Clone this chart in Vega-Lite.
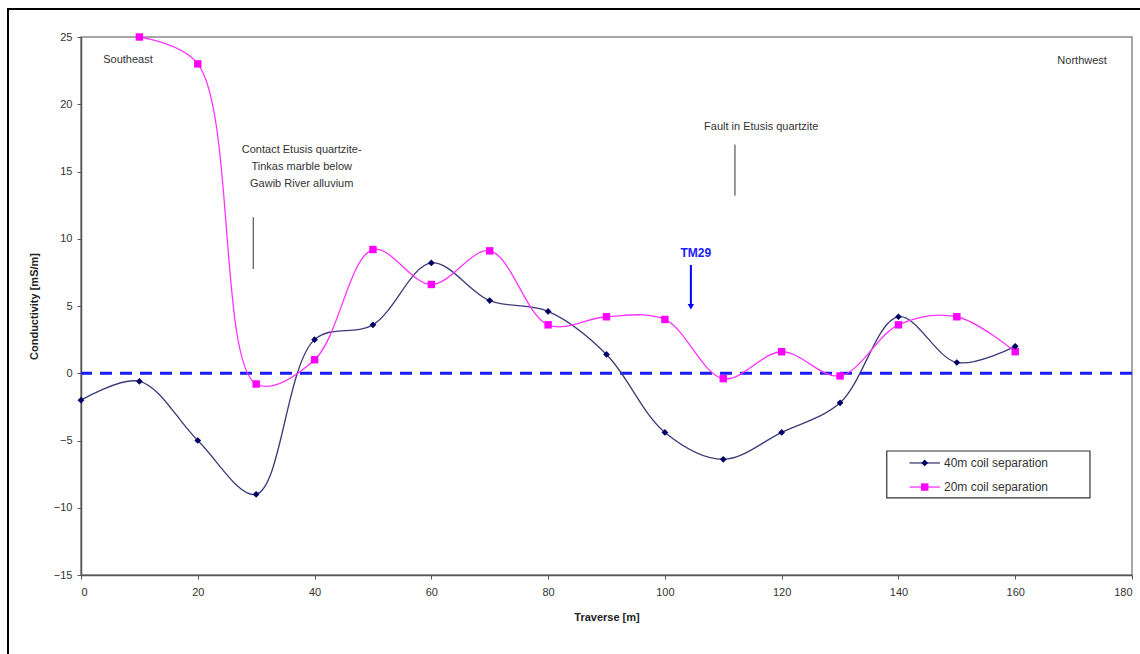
{
  "$schema": "https://vega.github.io/schema/vega-lite/v6.json",
  "width": 1051,
  "height": 538,
  "autosize": "none",
  "padding": {"left": 81, "top": 37, "right": 8, "bottom": 79},
  "background": "white",
  "config": {
    "view": {"stroke": "#8a8a8a", "strokeWidth": 1.5},
    "font": "Liberation Sans",
    "axis": {"grid": false, "domainColor": "#555555", "domainWidth": 1.5, "tickColor": "#555555", "tickSize": 4, "labelFont": "Liberation Sans", "labelFontSize": 11, "labelColor": "#333333", "titleFont": "Liberation Sans", "titleFontSize": 11, "titleFontWeight": "bold", "titleColor": "#222222"}
  },
  "datasets": {
    "em": [
      {"x": 0, "y": -2.0, "series": "40m coil separation"},
      {"x": 10, "y": -0.6, "series": "40m coil separation"},
      {"x": 20, "y": -5.0, "series": "40m coil separation"},
      {"x": 30, "y": -9.0, "series": "40m coil separation"},
      {"x": 40, "y": 2.5, "series": "40m coil separation"},
      {"x": 50, "y": 3.6, "series": "40m coil separation"},
      {"x": 60, "y": 8.2, "series": "40m coil separation"},
      {"x": 70, "y": 5.4, "series": "40m coil separation"},
      {"x": 80, "y": 4.6, "series": "40m coil separation"},
      {"x": 90, "y": 1.4, "series": "40m coil separation"},
      {"x": 100, "y": -4.4, "series": "40m coil separation"},
      {"x": 110, "y": -6.4, "series": "40m coil separation"},
      {"x": 120, "y": -4.4, "series": "40m coil separation"},
      {"x": 130, "y": -2.2, "series": "40m coil separation"},
      {"x": 140, "y": 4.2, "series": "40m coil separation"},
      {"x": 150, "y": 0.8, "series": "40m coil separation"},
      {"x": 160, "y": 2.0, "series": "40m coil separation"},
      {"x": 10, "y": 25.0, "series": "20m coil separation"},
      {"x": 20, "y": 23.0, "series": "20m coil separation"},
      {"x": 30, "y": -0.8, "series": "20m coil separation"},
      {"x": 40, "y": 1.0, "series": "20m coil separation"},
      {"x": 50, "y": 9.2, "series": "20m coil separation"},
      {"x": 60, "y": 6.6, "series": "20m coil separation"},
      {"x": 70, "y": 9.1, "series": "20m coil separation"},
      {"x": 80, "y": 3.6, "series": "20m coil separation"},
      {"x": 90, "y": 4.2, "series": "20m coil separation"},
      {"x": 100, "y": 4.0, "series": "20m coil separation"},
      {"x": 110, "y": -0.4, "series": "20m coil separation"},
      {"x": 120, "y": 1.6, "series": "20m coil separation"},
      {"x": 130, "y": -0.2, "series": "20m coil separation"},
      {"x": 140, "y": 3.6, "series": "20m coil separation"},
      {"x": 150, "y": 4.2, "series": "20m coil separation"},
      {"x": 160, "y": 1.6, "series": "20m coil separation"}
    ],
    "notes": [
      {"x": 3.8, "y": 23.3, "label": "Southeast", "align": "left"},
      {"x": 175.7, "y": 23.2, "label": "Northwest", "align": "right"},
      {"x": 37.8, "y": 16.6, "label": "Contact Etusis quartzite-", "align": "center"},
      {"x": 37.8, "y": 15.33, "label": "Tinkas marble below", "align": "center"},
      {"x": 37.8, "y": 14.07, "label": "Gawib River alluvium", "align": "center"},
      {"x": 116.5, "y": 18.3, "label": "Fault in Etusis quartzite", "align": "center"}
    ],
    "ticks": [
      {"x": 29.5, "y": 11.6, "y2": 7.75},
      {"x": 112.0, "y": 17.0, "y2": 13.2}
    ],
    "legendItems": [
      {"x": 141.9, "x2": 147.1, "xm": 144.5, "xt": 147.8, "y": -6.67, "series": "40m coil separation"},
      {"x": 141.9, "x2": 147.1, "xm": 144.5, "xt": 147.8, "y": -8.46, "series": "20m coil separation"}
    ]
  },
  "encoding": {
    "x": {"field": "x", "type": "quantitative", "scale": {"domain": [0, 180], "nice": false, "zero": false}, "axis": {"values": [0, 20, 40, 60, 80, 100, 120, 140, 160, 180], "title": "Traverse [m]", "labelPadding": 7, "titlePadding": 14}},
    "y": {"field": "y", "type": "quantitative", "scale": {"domain": [-15, 25], "nice": false, "zero": false}, "axis": {"values": [-15, -10, -5, 0, 5, 10, 15, 20, 25], "title": "Conductivity [mS/m]", "labelPadding": 5, "titlePadding": 14}}
  },
  "layer": [
    {
      "data": {"values": [{"x": -12.5, "x2": 200, "y": 27.08, "y2": -25}]},
      "mark": {"type": "rect", "fill": null, "fillOpacity": 0, "stroke": "#000000", "strokeWidth": 2, "clip": false},
      "encoding": {"x2": {"field": "x2"}, "y2": {"field": "y2"}}
    },
    {
      "data": {"values": [{"y": 0}]},
      "mark": {"type": "rule", "color": "#1a1aff", "strokeWidth": 3, "strokeDash": [12, 8]},
      "encoding": {"x": null}
    },
    {
      "data": {"name": "em"},
      "mark": {"type": "line", "interpolate": "catmull-rom", "strokeWidth": 1.3},
      "encoding": {
        "color": {"field": "series", "type": "nominal", "scale": {"domain": ["20m coil separation", "40m coil separation"], "range": ["#ff33ff", "#3a3a78"]}, "legend": null},
        "order": {"field": "x", "type": "quantitative"}
      }
    },
    {
      "data": {"name": "em"},
      "transform": [{"filter": "datum.series === '20m coil separation'"}],
      "mark": {"type": "point", "shape": "square", "filled": true, "size": 55, "color": "#ff00ff", "opacity": 1}
    },
    {
      "data": {"name": "em"},
      "transform": [{"filter": "datum.series === '40m coil separation'"}],
      "mark": {"type": "point", "shape": "diamond", "filled": true, "size": 45, "color": "#000066", "opacity": 1}
    },
    {
      "data": {"name": "notes"},
      "transform": [{"filter": "datum.align === 'left'"}],
      "mark": {"type": "text", "align": "left", "fontSize": 11, "color": "#333333", "font": "Liberation Sans"},
      "encoding": {"text": {"field": "label"}}
    },
    {
      "data": {"name": "notes"},
      "transform": [{"filter": "datum.align === 'right'"}],
      "mark": {"type": "text", "align": "right", "fontSize": 11, "color": "#333333", "font": "Liberation Sans"},
      "encoding": {"text": {"field": "label"}}
    },
    {
      "data": {"name": "notes"},
      "transform": [{"filter": "datum.align === 'center'"}],
      "mark": {"type": "text", "align": "center", "fontSize": 11, "color": "#333333", "font": "Liberation Sans"},
      "encoding": {"text": {"field": "label"}}
    },
    {
      "data": {"name": "ticks"},
      "mark": {"type": "rule", "color": "#333333", "strokeWidth": 1},
      "encoding": {"y2": {"field": "y2"}}
    },
    {
      "data": {"values": [{"x": 105.3, "y": 8.96, "label": "TM29"}]},
      "mark": {"type": "text", "fontSize": 12, "fontWeight": "bold", "color": "#2020ff", "font": "Liberation Sans"},
      "encoding": {"text": {"field": "label"}}
    },
    {
      "data": {"values": [{"x": 104.45, "y": 8.05, "y2": 5.1}]},
      "mark": {"type": "rule", "color": "#0000ff", "strokeWidth": 2},
      "encoding": {"y2": {"field": "y2"}}
    },
    {
      "data": {"values": [{"x": 104.45, "y": 4.95}]},
      "mark": {"type": "point", "shape": "triangle-down", "filled": true, "size": 40, "color": "#0000ff", "opacity": 1}
    },
    {
      "data": {"values": [{"x": 138.0, "x2": 172.8, "y": -5.78, "y2": -9.27}]},
      "mark": {"type": "rect", "fill": "white", "stroke": "#333333", "strokeWidth": 1.2},
      "encoding": {"x2": {"field": "x2"}, "y2": {"field": "y2"}}
    },
    {
      "data": {"name": "legendItems"},
      "mark": {"type": "rule", "strokeWidth": 1.3},
      "encoding": {
        "x2": {"field": "x2"},
        "color": {"field": "series", "type": "nominal", "legend": null}
      }
    },
    {
      "data": {"name": "legendItems"},
      "transform": [{"filter": "datum.series === '20m coil separation'"}],
      "mark": {"type": "point", "shape": "square", "filled": true, "size": 55, "color": "#ff00ff", "opacity": 1},
      "encoding": {"x": {"field": "xm", "type": "quantitative"}}
    },
    {
      "data": {"name": "legendItems"},
      "transform": [{"filter": "datum.series === '40m coil separation'"}],
      "mark": {"type": "point", "shape": "diamond", "filled": true, "size": 45, "color": "#000066", "opacity": 1},
      "encoding": {"x": {"field": "xm", "type": "quantitative"}}
    },
    {
      "data": {"name": "legendItems"},
      "mark": {"type": "text", "align": "left", "fontSize": 12, "color": "#333333", "font": "Liberation Sans"},
      "encoding": {"x": {"field": "xt", "type": "quantitative"}, "text": {"field": "series"}}
    }
  ]
}
